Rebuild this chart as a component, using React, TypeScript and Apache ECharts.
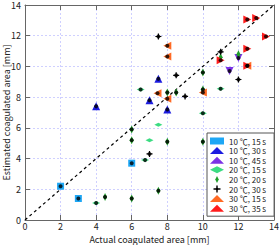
import React, { useEffect, useRef } from "react";
import * as echarts from "echarts";

const FONT = '"Noto Sans CJK JP", "Noto Sans", sans-serif';

const seriesNames = [
  "10 ℃, 15 s",
  "10 ℃, 30 s",
  "10 ℃, 45 s",
  "20 ℃, 15 s",
  "20 ℃, 20 s",
  "20 ℃, 30 s",
  "30 ℃, 15 s",
  "30 ℃, 35 s",
];

const s10_15 = [[2, 2.2], [3, 1.4], [6, 3.7]];
const s10_30 = [[4, 7.4], [7, 7.8], [7.5, 9.2], [8, 7.2]];
const s10_45 = [[11.5, 9.7], [12, 10.55]];
const s20_15 = [[6.5, 8.5], [7, 5.2], [7.5, 6.2], [4, 1.1], [11, 8.55], [10, 6.95], [6.75, 3.9]];
const s20_20 = [
  [4.5, 1.5], [6, 1.4], [6, 5.2], [6, 5.9], [8, 8.3], [8.5, 8.3], [10, 9.6],
  [10, 8.5], [10, 5.1], [8, 5.1], [7.5, 1.9], [11, 10.6], [12, 10.8],
];
const s20_30 = [[7.5, 11.95], [8.5, 9.42], [9, 8.05], [12, 9.15], [7, 4.3], [11, 10.95]];
const s30_15 = [[8, 11.35], [8, 10.65], [7.45, 8.25], [8, 7.9], [10, 8.3], [12.5, 10.05]];
const s30_35 = [[12.5, 13.05], [13, 13.15], [13.55, 11.95], [12.5, 11.15], [11, 10.4], [12.5, 10.05]];

// points drawn without the black centre mark
const plainPoints = [[7, 5.2], [7.5, 6.2], [11, 10.6], [12, 10.8]];

const xTicks = [0, 14, 2];
const yTicks = [0, 14, 2];
const diagonal = [[0, 0], [14, 14]];

const colors = ["#1ea7f5", "#1c1ce0", "#7a32e6", "#3cdc82", "#1f9e2a", "#000000", "#ff6a24", "#ff1c1c"];

const HDIAMOND = "path://M0,2L4,0L8,2L4,4Z";
const VDIAMOND = "path://M2,0L4,4L2,8L0,4Z";
const PLUS = "path://M4,0h2v3.2a2,2 0 0 1 0.8,0.8h3.2v2h-3.2a2,2 0 0 1 -0.8,0.8v3.2h-2v-3.2a2,2 0 0 1 -0.8,-0.8h-3.2v-2h3.2a2,2 0 0 1 0.8,-0.8z";

export default function App() {
  const ref = useRef<HTMLDivElement>(null);
  useEffect(() => {
    document.body.style.margin = "0";
    const chart = echarts.init(ref.current!, null, { renderer: "svg" });
    const datas = [s10_15, s10_30, s10_45, s20_15, s20_20, s20_30, s30_15, s30_35];
    const symbols: any[] = ["rect", "triangle", "triangle", HDIAMOND, VDIAMOND, PLUS, "triangle", "triangle"];
    const sizes: any[] = [7, 8, 8, [8, 4], [4, 8], 6, 8, 8];
    const rotates = [0, 0, 180, 0, 0, 0, 90, -90];

    const isPlain = (p: number[]) => plainPoints.some((q) => q[0] === p[0] && q[1] === p[1]);
    const centers: number[][] = [];
    datas.forEach((d) => d.forEach((p) => { if (!isPlain(p)) centers.push(p); }));

    const axisCommon = {
      type: "value" as const,
      min: xTicks[0],
      max: xTicks[1],
      interval: xTicks[2],
      axisLine: { show: true, onZero: false, lineStyle: { color: "#666", width: 1 } },
      axisTick: { show: true, inside: true, length: 5, lineStyle: { color: "#666" } },
    };

    const scatterSeries = seriesNames.map((name, i) => ({
      name,
      type: "scatter",
      data: datas[i],
      symbol: symbols[i],
      symbolSize: sizes[i],
      symbolRotate: rotates[i],
      itemStyle: { color: colors[i], opacity: 1 },
      xAxisIndex: 0,
      yAxisIndex: 0,
      z: 3,
    }));

    chart.setOption({
      animation: false,
      backgroundColor: "#fff",
      textStyle: { fontFamily: FONT },
      grid: { left: 25, right: 6, top: 5, bottom: 25, outerBoundsMode: "none", containLabel: false },
      xAxis: [
        {
          ...axisCommon,
          position: "bottom",
          name: "Actual coagulated area [mm]",
          nameLocation: "middle",
          nameGap: 15,
          nameMoveOverlap: false,
          nameTextStyle: { fontSize: 9, color: "#222", fontFamily: FONT, lineHeight: 9 },
          axisLabel: { fontSize: 9, color: "#222", margin: 2, fontFamily: FONT, lineHeight: 8 },
          splitLine: { show: true, lineStyle: { color: "#cfd0ff", type: [2, 2], width: 1 } },
        },
        {
          ...axisCommon,
          position: "top",
          axisLabel: { show: false },
          splitLine: { show: false },
        },
      ],
      yAxis: [
        {
          ...axisCommon,
          min: yTicks[0],
          max: yTicks[1],
          interval: yTicks[2],
          position: "left",
          name: "Estimated coagulated area [mm]",
          nameLocation: "middle",
          nameGap: 14,
          nameMoveOverlap: false,
          nameTextStyle: { fontSize: 9, color: "#222", fontFamily: FONT, lineHeight: 10 },
          axisLabel: { fontSize: 9, color: "#222", margin: 4, fontFamily: FONT, lineHeight: 9 },
          splitLine: { show: true, lineStyle: { color: "#cfd0ff", type: [2, 2], width: 1 } },
        },
        {
          ...axisCommon,
          min: yTicks[0],
          max: yTicks[1],
          interval: yTicks[2],
          position: "right",
          axisLabel: { show: false },
          splitLine: { show: false },
        },
      ],
      legend: {
        orient: "vertical",
        left: 207,
        top: 133,
        padding: [4, 8, 4, 3],
        itemGap: 1.6,
        itemWidth: 14,
        itemHeight: 7,
        borderColor: "#555",
        borderWidth: 1,
        backgroundColor: "#fff",
        textStyle: { fontSize: 8, color: "#222", lineHeight: 8, fontFamily: FONT },
        data: seriesNames,
      },
      series: [
        {
          name: "diag",
          type: "line",
          data: diagonal,
          symbol: "none",
          silent: true,
          lineStyle: { color: "#000", width: 1.2, type: [3, 3] },
          xAxisIndex: 0,
          yAxisIndex: 0,
          z: 2,
        },
        ...scatterSeries,
        {
          name: "centers",
          type: "scatter",
          data: centers,
          symbol: "circle",
          symbolSize: 4,
          silent: true,
          itemStyle: { color: "#000" },
          xAxisIndex: 0,
          yAxisIndex: 0,
          z: 4,
        },
      ],
    });
    return () => chart.dispose();
  }, []);
  return <div ref={ref} style={{ position: "absolute", left: 0, top: 0, width: 280, height: 245 }} />;
}
